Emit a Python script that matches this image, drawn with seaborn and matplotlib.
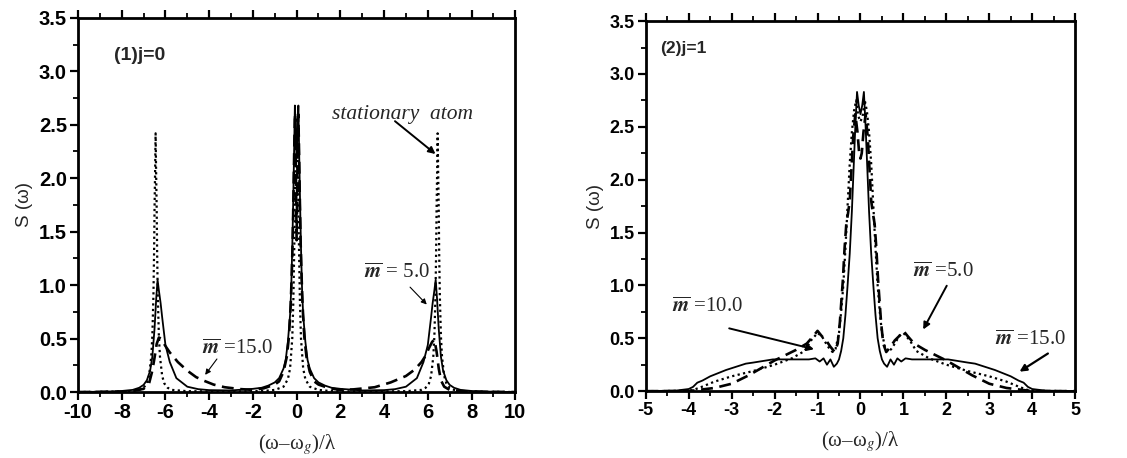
import numpy as np
import pandas as pd
import matplotlib
matplotlib.use("Agg")
import matplotlib.pyplot as plt
from matplotlib.ticker import MultipleLocator
import seaborn as sns

# ---------------- data: panel (1) j=0 ----------------
j0_solid_x = [-10, -9, -8.5, -8, -7.5, -7.2, -7.0, -6.85, -6.7, -6.6, -6.5, -6.42, -6.36, -6.3, -6.22, -6.15,
              -6.0, -5.8, -5.5, -5.0, -4.5, -4.0, -3.0, -2.0, -1.6, -1.3, -1.0, -0.8, -0.6, -0.5, -0.4, -0.3,
              -0.25, -0.2, -0.16, -0.12, -0.08, -0.04, 0.0, 0.04, 0.08, 0.12, 0.16, 0.2, 0.25, 0.3, 0.4, 0.5,
              0.6, 0.8, 1.0, 1.3, 1.6, 2.0, 3.0, 4.0, 4.5, 5.0, 5.5, 5.8, 6.0, 6.15, 6.22, 6.3, 6.36, 6.42,
              6.5, 6.6, 6.7, 6.85, 7.0, 7.2, 7.5, 8.0, 8.5, 9, 10]
j0_solid_y = [0.0, 0.003, 0.006, 0.01, 0.02, 0.04, 0.067, 0.11, 0.2, 0.33, 0.59, 0.88, 1.05, 0.95, 0.83, 0.7,
              0.44, 0.28, 0.13, 0.05, 0.027, 0.018, 0.015, 0.03, 0.04, 0.06, 0.09, 0.13, 0.22, 0.3, 0.47, 0.72,
              0.95, 1.35, 1.75, 2.2, 2.68, 2.45, 2.2, 2.45, 2.68, 2.2, 1.75, 1.35, 0.95, 0.72, 0.47, 0.3,
              0.22, 0.13, 0.09, 0.06, 0.04, 0.03, 0.015, 0.018, 0.027, 0.05, 0.13, 0.28, 0.44, 0.7, 0.83, 0.95,
              1.05, 0.88, 0.59, 0.33, 0.2, 0.11, 0.067, 0.04, 0.02, 0.01, 0.006, 0.003, 0.0]

j0_dash_x = [-10, -8, -7.5, -7.0, -6.75, -6.6, -6.5, -6.4, -6.3, -6.2, -6.0, -5.8, -5.43, -5.0, -4.6, -4.29,
             -3.8, -3.29, -2.6, -2.0, -1.5, -1.0, -0.8, -0.6, -0.45, -0.35, -0.27, -0.22, -0.18, -0.14, -0.1,
             -0.07, -0.03, 0.0, 0.03, 0.07, 0.1, 0.14, 0.18, 0.22, 0.27, 0.35, 0.45, 0.6, 0.8, 1.0, 1.5, 2.0,
             2.6, 3.57, 4.3, 5.0, 5.4, 5.71, 5.9, 6.05, 6.2, 6.3, 6.4, 6.5, 6.6, 6.75, 7.0, 7.5, 8, 10]
j0_dash_y = [0.0, 0.003, 0.01, 0.03, 0.08, 0.2, 0.32, 0.45, 0.51, 0.5, 0.43, 0.37, 0.28, 0.2, 0.14, 0.11,
             0.07, 0.045, 0.028, 0.02, 0.035, 0.07, 0.1, 0.19, 0.33, 0.52, 0.82, 1.12, 1.42, 1.88, 2.38,
             2.6, 2.0, 1.42, 2.0, 2.6, 2.38, 1.88, 1.42, 1.12, 0.82, 0.52, 0.33, 0.19, 0.1, 0.07, 0.035, 0.02,
             0.025, 0.045, 0.09, 0.15, 0.21, 0.28, 0.34, 0.41, 0.47, 0.49, 0.38, 0.22, 0.11, 0.05, 0.02, 0.01, 0.003, 0.0]

j0_dot_x = [-10, -8, -7.5, -7.2, -7.0, -6.85, -6.75, -6.65, -6.6, -6.55, -6.52, -6.5, -6.47, -6.45, -6.43,
            -6.4, -6.38, -6.35, -6.3, -6.25, -6.15, -6.05, -5.9, -5.7, -5.0, -3.0, -1.5, -1.0, -0.6, -0.4,
            -0.3, -0.2, -0.15, -0.1, -0.06, -0.03, 0.0, 0.03, 0.06, 0.1, 0.15, 0.2, 0.3, 0.4, 0.6, 1.0, 1.5,
            3.0, 5.0, 5.7, 5.9, 6.05, 6.15, 6.25, 6.3, 6.35, 6.38, 6.4, 6.43, 6.45, 6.47, 6.5, 6.52, 6.55,
            6.6, 6.65, 6.75, 6.85, 7.0, 7.2, 7.5, 8, 10]
j0_dot_y = [0.0, 0.005, 0.01, 0.02, 0.04, 0.08, 0.15, 0.33, 0.52, 0.9, 1.3, 1.7, 2.1, 2.42, 2.1,
            1.7, 1.3, 0.9, 0.52, 0.33, 0.15, 0.08, 0.04, 0.02, 0.008, 0.005, 0.01, 0.02, 0.05, 0.12,
            0.22, 0.5, 0.85, 1.45, 2.1, 2.4, 2.45, 2.4, 2.1, 1.45, 0.85, 0.5, 0.22, 0.12, 0.05, 0.02, 0.01,
            0.005, 0.008, 0.02, 0.04, 0.08, 0.15, 0.33, 0.52, 0.9, 1.3, 1.7, 2.1, 2.42, 2.1, 1.7, 1.3, 0.9,
            0.52, 0.33, 0.15, 0.08, 0.04, 0.02, 0.01, 0.005, 0.0]

# ---------------- data: panel (2) j=1 ----------------
j1_solid_x = [-5, -4.3, -4.0, -3.9, -3.8, -3.68, -3.5, -3.13, -2.67, -2.5, -2.04, -1.5, -1.2, -1.05, -0.95,
              -0.86, -0.78, -0.7, -0.62, -0.55, -0.5, -0.45, -0.4, -0.35, -0.3, -0.25, -0.2, -0.16, -0.12,
              -0.08, -0.04, 0.0, 0.04, 0.08, 0.12, 0.16, 0.2, 0.25, 0.3, 0.35, 0.4, 0.45, 0.5, 0.55, 0.62,
              0.7, 0.78, 0.86, 0.95, 1.05, 1.2, 1.5, 2.04, 2.5, 2.67, 3.13, 3.5, 3.68, 3.8, 3.9, 4.0, 4.3, 5]
j1_solid_y = [0.0, 0.005, 0.02, 0.04, 0.08, 0.1, 0.14, 0.2, 0.26, 0.27, 0.3, 0.3, 0.3, 0.31, 0.28,
              0.31, 0.25, 0.3, 0.23, 0.26, 0.3, 0.38, 0.5, 0.72, 1.0, 1.3, 1.7, 2.1, 2.5,
              2.83, 2.7, 2.62, 2.7, 2.83, 2.5, 2.1, 1.7, 1.3, 1.0, 0.72, 0.5, 0.38, 0.3, 0.26, 0.23,
              0.3, 0.25, 0.31, 0.28, 0.31, 0.3, 0.3, 0.3, 0.27, 0.26, 0.2, 0.14, 0.1, 0.08, 0.04, 0.02, 0.005, 0.0]

j1_dot_x = [-5, -4.1, -3.9, -3.7, -3.4, -3.0, -2.5, -2.0, -1.6, -1.3, -1.15, -1.0, -0.9, -0.8, -0.72, -0.65,
            -0.58, -0.5, -0.45, -0.4, -0.35, -0.3, -0.25, -0.2, -0.15, -0.1, -0.05, 0.0, 0.05, 0.1, 0.15,
            0.2, 0.25, 0.3, 0.35, 0.4, 0.45, 0.5, 0.58, 0.65, 0.72, 0.8, 0.9, 1.0, 1.15, 1.3, 1.6, 2.0,
            2.5, 3.0, 3.4, 3.7, 3.9, 4.1, 5]
j1_dot_y = [0.0, 0.003, 0.01, 0.04, 0.09, 0.14, 0.19, 0.25, 0.31, 0.38, 0.48, 0.55, 0.52, 0.45, 0.4, 0.37,
            0.4, 0.55, 0.75, 1.0, 1.35, 1.75, 2.15, 2.45, 2.65, 2.75, 2.6, 2.55, 2.6, 2.75, 2.65,
            2.45, 2.15, 1.75, 1.35, 1.0, 0.75, 0.55, 0.4, 0.37, 0.4, 0.45, 0.52, 0.55, 0.48, 0.38, 0.31, 0.25,
            0.19, 0.14, 0.09, 0.04, 0.01, 0.003, 0.0]

j1_dash_x = [-5, -4.0, -3.8, -3.4, -3.0, -2.6, -2.3, -2.0, -1.8, -1.5, -1.25, -1.1, -1.0, -0.9, -0.8, -0.7,
             -0.6, -0.53, -0.48, -0.44, -0.41, -0.37, -0.33, -0.29, -0.25, -0.21, -0.17, -0.12, -0.07, -0.03,
             0.0, 0.03, 0.07, 0.12, 0.17, 0.21, 0.25, 0.29, 0.33, 0.37, 0.41, 0.44, 0.48, 0.53, 0.6, 0.7,
             0.8, 0.9, 1.0, 1.1, 1.25, 1.5, 1.8, 2.0, 2.3, 2.6, 3.0, 3.4, 3.8, 4.0, 5]
j1_dash_y = [0.0, 0.0, 0.01, 0.03, 0.07, 0.15, 0.22, 0.29, 0.33, 0.39, 0.45, 0.52, 0.57, 0.52, 0.48, 0.42,
             0.37, 0.45, 0.65, 0.88, 1.05, 1.35, 1.58, 1.68, 1.8, 2.1, 2.4, 2.62, 2.45, 2.25,
             2.2, 2.25, 2.45, 2.62, 2.4, 2.1, 1.8, 1.68, 1.58, 1.35, 1.05, 0.88, 0.65, 0.45, 0.37, 0.42,
             0.48, 0.52, 0.57, 0.52, 0.45, 0.39, 0.33, 0.29, 0.22, 0.15, 0.07, 0.03, 0.01, 0.0, 0.0]

# ---------------- style ----------------
sns.set_theme(style="ticks")
plt.rcParams["font.family"] = ["Liberation Sans", "DejaVu Sans"]
plt.rcParams["mathtext.fontset"] = "stix"
plt.rcParams["axes.unicode_minus"] = False

SERIF = ["Liberation Serif", "DejaVu Serif"]

fig = plt.figure(figsize=(11.27, 4.58), dpi=100)
axL = fig.add_axes([0.0692, 0.144, 0.388, 0.817])
axR = fig.add_axes([0.573, 0.146, 0.381, 0.808])

def draw(ax, sx, sy, dx, dy, ox, oy):
    sns.lineplot(x=sx, y=sy, ax=ax, color="black", lw=1.3, estimator=None, sort=False)
    sns.lineplot(x=dx, y=dy, ax=ax, color="black", lw=1.9, linestyle=(0, (4.5, 2.5)), estimator=None, sort=False)
    sns.lineplot(x=ox, y=oy, ax=ax, color="black", lw=1.6, linestyle=(0, (1, 1.5)), estimator=None, sort=False)

draw(axL, j0_solid_x, j0_solid_y, j0_dash_x, j0_dash_y, j0_dot_x, j0_dot_y)
draw(axR, j1_solid_x, j1_solid_y, j1_dash_x, j1_dash_y, j1_dot_x, j1_dot_y)

def style(ax, xlim, xmaj, xmin, fs):
    ax.set_xlim(*xlim)
    ax.set_ylim(0, 3.5)
    ax.xaxis.set_major_locator(MultipleLocator(xmaj))
    ax.xaxis.set_minor_locator(MultipleLocator(xmin))
    ax.yaxis.set_major_locator(MultipleLocator(0.5))
    ax.yaxis.set_minor_locator(MultipleLocator(0.25))
    ax.yaxis.set_major_formatter(matplotlib.ticker.FormatStrFormatter("%.1f"))
    for s in ax.spines.values():
        s.set_visible(True)
        s.set_linewidth(2.0)
        s.set_color("black")
    ax.tick_params(which="both", direction="out", top=True, right=False, colors="black")
    ax.tick_params(which="major", length=6, width=1.6, labelsize=fs, pad=2)
    ax.tick_params(which="minor", length=3.5, width=1.3)
    for lab in ax.get_xticklabels() + ax.get_yticklabels():
        lab.set_fontweight("bold")
    ax.set_ylabel("S (ω)", fontsize=13.5, labelpad=4)
    ax.set_xlabel("(ω–ω$_g$)/λ", fontsize=15, family=SERIF, labelpad=7)
    ax.grid(False)

style(axL, (-10, 10), 2, 1, 14.5)
style(axR, (-5, 5), 1, 0.5, 13)

# panel titles
axL.text(-8.35, 3.15, "(1)j=0", fontsize=14, fontweight="bold", va="center", ha="left")
axR.text(-4.67, 3.24, "(2)j=1", fontsize=12.5, fontweight="bold", va="center", ha="left")

mbar = r"$\overline{\mathbfit{m}}$"

# left annotations
axL.text(1.6, 2.6, "stationary  atom", fontsize=15.5, family=SERIF, style="italic", va="center", ha="left")
axL.annotate("", xy=(6.45, 2.21), xytext=(4.4, 2.55),
             arrowprops=dict(arrowstyle="-|>", color="black", lw=1.4, mutation_scale=10))
axL.text(3.1, 1.11, mbar + " = 5.0", fontsize=15, family=SERIF, va="center", ha="left")
axL.annotate("", xy=(6.04, 0.8), xytext=(5.1, 1.0),
             arrowprops=dict(arrowstyle="-|>", color="black", lw=0.8, mutation_scale=8))
axL.text(-4.35, 0.4, mbar + " =15.0", fontsize=15, family=SERIF, va="center", ha="left")
axL.annotate("", xy=(-4.26, 0.14), xytext=(-3.57, 0.33),
             arrowprops=dict(arrowstyle="-|>", color="black", lw=0.8, mutation_scale=8))

# right annotations
axR.text(-4.4, 0.79, mbar + " =10.0", fontsize=15, family=SERIF, va="center", ha="left")
axR.annotate("", xy=(-1.02, 0.39), xytext=(-3.12, 0.6),
             arrowprops=dict(arrowstyle="-|>", color="black", lw=1.4, mutation_scale=10))
axR.text(1.22, 1.13, mbar + " =5.0", fontsize=15, family=SERIF, va="center", ha="left")
axR.annotate("", xy=(1.43, 0.56), xytext=(2.04, 1.02),
             arrowprops=dict(arrowstyle="-|>", color="black", lw=1.4, mutation_scale=10))
axR.text(3.14, 0.48, mbar + " =15.0", fontsize=15, family=SERIF, va="center", ha="left")
axR.annotate("", xy=(3.65, 0.17), xytext=(4.42, 0.37),
             arrowprops=dict(arrowstyle="-|>", color="black", lw=1.6, mutation_scale=10))

fig.savefig("out.png", dpi=100, facecolor="white")
